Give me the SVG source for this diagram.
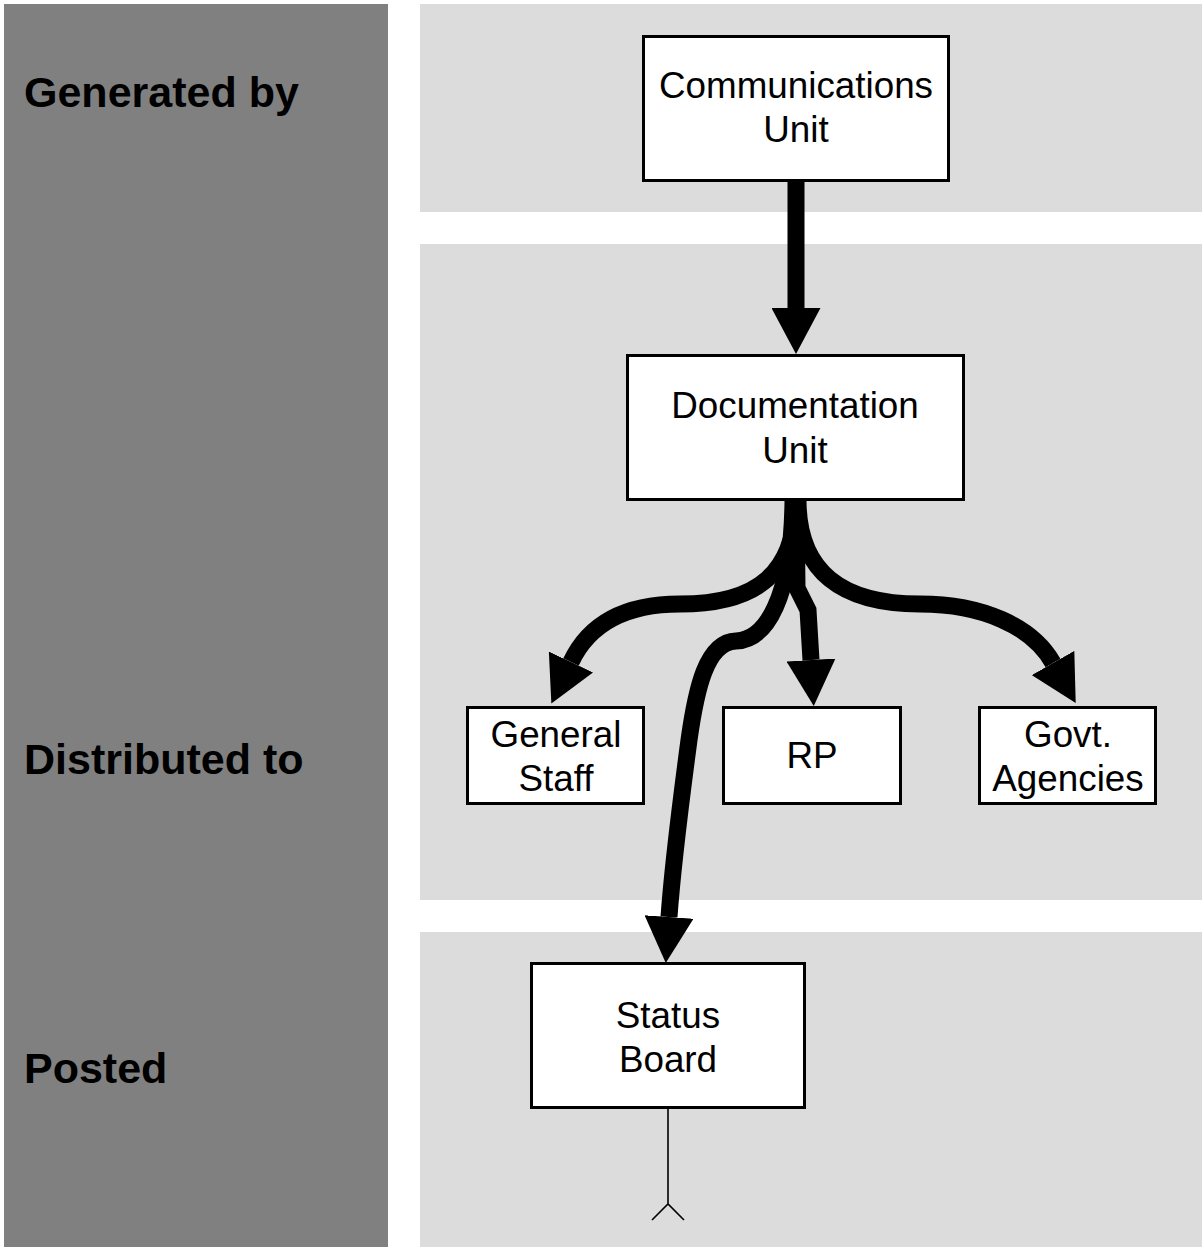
<svg xmlns="http://www.w3.org/2000/svg" width="1202" height="1247" viewBox="0 0 1202 1247">
<style>
.band{fill:#dcdcdc}
.lane{fill:#808080}
.lbl{font-family:"Liberation Sans",Arial,sans-serif;font-size:43px;font-weight:bold;fill:#000}
.box{fill:#fff;stroke:#000;stroke-width:3}
.t{font-family:"Liberation Sans",Arial,sans-serif;font-size:36.8px;fill:#000;text-anchor:middle}
.flow{fill:none;stroke:#000;stroke-width:17;marker-end:url(#head)}
.thin{fill:none;stroke:#000;stroke-width:1.6}
</style>
<defs>
<marker id="head" markerUnits="userSpaceOnUse" viewBox="0 0 46 49" refX="0" refY="24.5" markerWidth="46" markerHeight="49" orient="auto">
<path d="M0,0 L46,24.5 L0,49 z" fill="#000"/>
</marker>
</defs>
<g id="background">
<rect class="lane" x="4" y="4" width="384" height="1243"/>
<rect class="band" x="420" y="4" width="782" height="208"/>
<rect class="band" x="420" y="244" width="782" height="656"/>
<rect class="band" x="420" y="932" width="782" height="315"/>
<text class="lbl" x="24" y="107">Generated by</text>
<text class="lbl" x="24" y="774">Distributed to</text>
<text class="lbl" x="24" y="1083">Posted</text>
</g>
<g id="connectors">
<path class="flow" d="M796,181 L796,308"/>
<path class="flow" d="M796,500 C796,572 758,604 680,604 C622,604 588,626 571,662"/>
<path class="flow" d="M798,500 C798,572 842,604 920,604 C982,604 1032,626 1053,663"/>
<path class="flow" d="M796,500 L797,588 L808,610 L811,660"/>
<path class="flow" d="M793,500 C792,598 766,640 736,641 C706,642 696,690 689,740 C681,800 673,860 669,917"/>
<path class="thin" d="M668,1108 L668,1204 M652,1220 L668,1204 L684,1220"/>
</g>
<g id="node-communications">
<rect class="box" x="643.5" y="36.5" width="305" height="144"/>
<text class="t" x="796" y="98">Communications</text>
<text class="t" x="796" y="142">Unit</text>
</g>
<g id="node-documentation">
<rect class="box" x="627.5" y="355.5" width="336" height="144"/>
<text class="t" x="795" y="418">Documentation</text>
<text class="t" x="795" y="463">Unit</text>
</g>
<g id="node-general-staff">
<rect class="box" x="467.5" y="707.5" width="176" height="96"/>
<text class="t" x="556" y="747">General</text>
<text class="t" x="556" y="791">Staff</text>
</g>
<g id="node-rp">
<rect class="box" x="723.5" y="707.5" width="177" height="96"/>
<text class="t" x="812" y="768">RP</text>
</g>
<g id="node-govt">
<rect class="box" x="979.5" y="707.5" width="176" height="96"/>
<text class="t" x="1068" y="747">Govt.</text>
<text class="t" x="1068" y="791">Agencies</text>
</g>
<g id="node-status-board">
<rect class="box" x="531.5" y="963.5" width="273" height="144"/>
<text class="t" x="668" y="1028">Status</text>
<text class="t" x="668" y="1072">Board</text>
</g>
</svg>
